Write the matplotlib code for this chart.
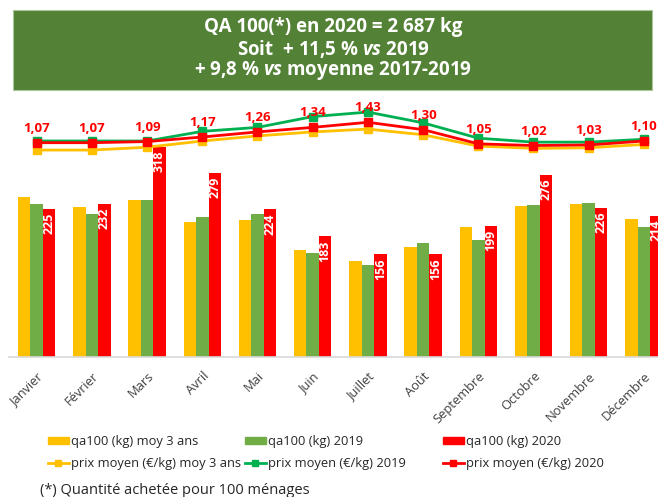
import numpy as np
import matplotlib
matplotlib.use("Agg")
import matplotlib.pyplot as plt
from matplotlib.patches import Rectangle, Patch
from matplotlib.lines import Line2D

plt.rcParams['font.family'] = ['Open Sans', 'DejaVu Sans']
plt.rcParams['mathtext.fontset'] = 'custom'
plt.rcParams['mathtext.it'] = 'Open Sans:italic:bold'

months = ['Janvier', 'Février', 'Mars', 'Avril', 'Mai', 'Juin', 'Juillet',
          'Août', 'Septembre', 'Octobre', 'Novembre', 'Décembre']

# qa100 (kg)
qa_moy3 = [242, 227, 238, 204, 208, 162, 146, 167, 197, 229, 232, 209]
qa_2019 = [232, 217, 238, 212, 217, 157, 140, 173, 177, 230, 234, 197]
qa_2020 = [225, 232, 318, 279, 224, 183, 156, 156, 199, 276, 226, 214]

# prix moyen (€/kg)
prix_moy3 = [0.94, 0.94, 0.99, 1.10, 1.19, 1.26, 1.31, 1.21, 1.01, 0.97, 0.98, 1.04]
prix_2019 = [1.10, 1.10, 1.10, 1.27, 1.34, 1.53, 1.61, 1.42, 1.15, 1.08, 1.08, 1.13]
prix_2020 = [1.07, 1.07, 1.09, 1.17, 1.26, 1.34, 1.43, 1.30, 1.05, 1.02, 1.03, 1.10]

c_yel = '#FFC000'
c_grn = '#70AD47'
c_red = '#FF0000'
c_lgrn = '#00B050'

W, H = 658, 497
fig = plt.figure(figsize=(W / 100, H / 100), dpi=100)

# title box
fig.patches.append(Rectangle((13 / W, 1 - 90 / H), 639 / W, 80 / H,
                             transform=fig.transFigure, facecolor='#538135',
                             edgecolor='#A9C79A', lw=0.8, zorder=0))
title_lines = ['QA 100(*) en 2020 = 2 687 kg',
               'Soit  + 11,5 % $\\mathit{vs}$ 2019',
               '+ 9,8 % $\\mathit{vs}$ moyenne 2017-2019']
for i, t in enumerate(title_lines):
    fig.text(333 / W, 1 - (27 + i * 21.5) / H, t, ha='center', va='center',
             color='white', fontsize=13.5, fontweight='bold')

# main axes (extends past the right edge like the original)
ax = fig.add_axes([9.1 / W, 140 / H, 662.4 / W, 257 / H])
x = np.arange(len(months))
bw = 0.225
ax.bar(x - bw, qa_moy3, bw, color=c_yel, label='qa100 (kg) moy 3 ans')
ax.bar(x, qa_2019, bw, color=c_grn, label='qa100 (kg) 2019')
ax.bar(x + bw, qa_2020, bw, color=c_red, label='qa100 (kg) 2020')
for xi, v in zip(x + bw, qa_2020):
    ax.annotate(str(v), (xi, v), xytext=(0, -4), textcoords='offset pixels',
                rotation=90, ha='center', va='top', color='white',
                fontsize=9, fontweight='bold')

ax.set_xlim(-0.5, 11.5)
ax.set_ylim(0, 389.4)
for s in ['top', 'right', 'left']:
    ax.spines[s].set_visible(False)
ax.spines['bottom'].set_color('#D9D9D9')
ax.spines['bottom'].set_linewidth(1.2)
ax.set_yticks([])
ax.set_xticks(x)
ax.set_xticklabels(months, rotation=45, ha='right', va='top',
                   rotation_mode='anchor', fontsize=9.3, color='#404040')
ax.tick_params(axis='x', length=0, pad=9)

ax2 = ax.twinx()
ax2.plot(x, prix_moy3, color=c_yel, lw=2, marker='s', ms=6,
         label='prix moyen (€/kg) moy 3 ans')
ax2.plot(x, prix_2019, color=c_lgrn, lw=2, marker='s', ms=6,
         label='prix moyen (€/kg) 2019')
ax2.plot(x, prix_2020, color=c_red, lw=2, marker='s', ms=6,
         label='prix moyen (€/kg) 2020')
for xi, v in zip(x, prix_2020):
    ax2.annotate(f'{v:.2f}'.replace('.', ','), (xi, v), xytext=(0, 14.5),
                 textcoords='offset pixels', ha='center', va='center',
                 color=c_red, fontsize=9.5, fontweight='bold')
ax2.set_ylim(-2.7095, 1.823)
ax2.axis('off')

# legend: three columns of two rows
cols = [
    (Patch(color=c_yel), Line2D([], [], color=c_yel, lw=2, marker='s', ms=5),
     'qa100 (kg) moy 3 ans', 'prix moyen (€/kg) moy 3 ans', 48),
    (Patch(color=c_grn), Line2D([], [], color=c_lgrn, lw=2, marker='s', ms=5),
     'qa100 (kg) 2019', 'prix moyen (€/kg) 2019', 245),
    (Patch(color=c_red), Line2D([], [], color=c_red, lw=2, marker='s', ms=5),
     'qa100 (kg) 2020', 'prix moyen (€/kg) 2020', 443),
]
for hb, hl, lb, ll, xp in cols:
    leg = fig.legend([hb, hl], [lb, ll], loc='upper left',
                     bbox_to_anchor=(xp / W, 1 - 435 / H), frameon=False,
                     fontsize=9.3, handlelength=1.6, handleheight=0.5,
                     handletextpad=0.15, labelspacing=0.68, borderpad=0,
                     borderaxespad=0, numpoints=1)
    for t in leg.get_texts():
        t.set_color('#262626')

fig.text(40 / W, 1 - 490 / H, '(*) Quantité achetée pour 100 ménages',
         ha='left', va='center', fontsize=10.5, color='#262626')

fig.savefig('out.png', dpi=100)
